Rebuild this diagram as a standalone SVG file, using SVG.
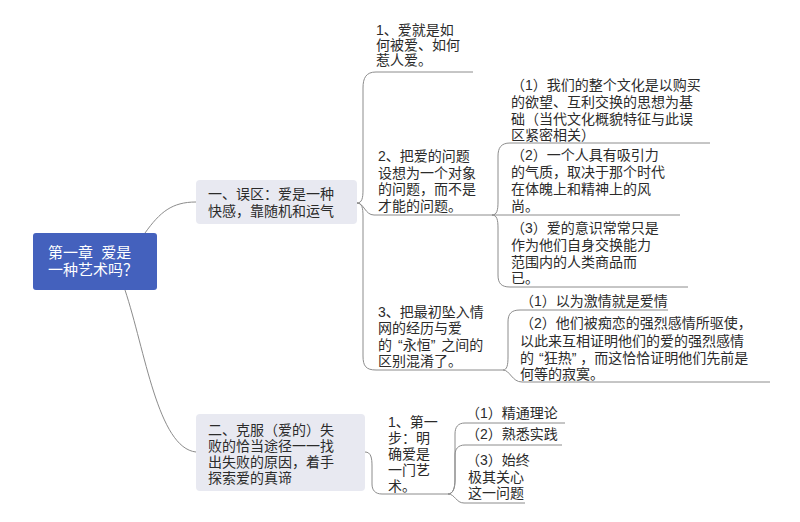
<svg xmlns="http://www.w3.org/2000/svg" width="800" height="522" viewBox="0 0 800 522">
<style>
text{font-family:"Liberation Sans","Noto Sans CJK SC",sans-serif;font-size:14px;fill:#2b2b2b}
#root text{fill:#fff;font-size:15px}
.box{fill:#e8e9f1}
#connectors path{fill:none;stroke:#8c8c8c;stroke-width:1}
</style>
<rect width="800" height="522" fill="#fff"/>
<g id="connectors">
<path d="M145,233 C160,212 172,202 196,202"/>
<path d="M125,290 C145,350 158,448 196,452"/>
<path d="M357,203 C362,203 363,198 363,190 L363,88 C363,78 366,72 376,72 L473,72"/>
<path d="M357,203 C364,203 365,215 374,215 L492,215"/>
<path d="M357,203 C362,203 363,208 363,216 L363,356 C363,366 366,370 376,370 L503,370"/>
<path d="M492,215 C497,215 498,210 498,202 L498,156 C498,148 501,143 510,143 L710,143"/>
<path d="M492,215 L680,215"/>
<path d="M492,215 C497,215 498,220 498,228 L498,275 C498,283 501,287 510,287 L688,287"/>
<path d="M503,370 C507,370 508,365 508,357 L508,322 C508,314 511,310 520,310 L668,310"/>
<path d="M503,370 C510,370 512,382 522,382 L770,382"/>
<path d="M365,452 C371,452 372,458 372,466 L372,484 C372,490 375,494 382,494 L448,494"/>
<path d="M448,494 C453,494 455,488 455,480 L455,434 C455,427 458,423 465,423 L565,423"/>
<path d="M448,494 C453,494 455,488 455,480 L455,455 C455,449 458,445 465,445 L562,445"/>
<path d="M448,494 C455,494 456,503 464,503 L525,503"/>
</g>
<g id="root">
<rect x="33" y="233" width="124" height="57" rx="3" fill="#4461bd"/>
<text x="48" y="258">第一章<tspan dx="4"> 爱是</tspan><tspan x="48" y="275">一种艺术吗？</tspan></text>
</g>
<g id="n1">
<rect class="box" x="196" y="180" width="161" height="44" rx="4"/>
<text x="208" y="199">一、误区：爱是一种<tspan x="208" y="216">快感，靠随机和运气</tspan></text>
</g>
<g id="n2">
<rect class="box" x="196" y="414" width="169" height="77" rx="4"/>
<text x="208" y="435">二、克服（爱的）失<tspan x="208" y="451">败的恰当途径一一找</tspan><tspan x="208" y="467">出失败的原因，着手</tspan><tspan x="208" y="483">探索爱的真谛</tspan></text>
</g>
<g id="n1-1">
<text x="376" y="35">1、爱就是如<tspan x="376" y="50">何被爱、如何</tspan><tspan x="376" y="65">惹人爱。</tspan></text>
</g>
<g id="n1-2">
<text x="378" y="161">2、把爱的问题<tspan x="378" y="178">设想为一个对象</tspan><tspan x="378" y="194">的问题，而不是</tspan><tspan x="378" y="211">才能的问题。</tspan></text>
</g>
<g id="n1-3">
<text x="378" y="317">3、把最初坠入情<tspan x="378" y="333">网的经历与爱</tspan><tspan x="378" y="350">的<tspan dx="6">“永恒”</tspan><tspan dx="6">之间的</tspan></tspan><tspan x="378" y="366">区别混淆了。</tspan></text>
</g>
<g id="n1-2-1">
<text x="511" y="90">（1）我们的整个文化是以购买<tspan x="511" y="107">的欲望、互利交换的思想为基</tspan><tspan x="511" y="124">础（当代文化概貌特征与此误</tspan><tspan x="511" y="140">区紧密相关）</tspan></text>
</g>
<g id="n1-2-2">
<text x="511" y="160">（2）一个人具有吸引力<tspan x="511" y="177">的气质，取决于那个时代</tspan><tspan x="511" y="194">在体魄上和精神上的风</tspan><tspan x="511" y="211">尚。</tspan></text>
</g>
<g id="n1-2-3">
<text x="511" y="233">（3）爱的意识常常只是<tspan x="511" y="250">作为他们自身交换能力</tspan><tspan x="511" y="267">范围内的人类商品而</tspan><tspan x="511" y="283">已。</tspan></text>
</g>
<g id="n1-3-1">
<text x="520" y="306">（1）以为激情就是爱情</text>
</g>
<g id="n1-3-2">
<text x="520" y="328">（2）他们被痴恋的强烈感情所驱使，<tspan x="520" y="346">以此来互相证明他们的爱的强烈感情</tspan><tspan x="520" y="363">的<tspan dx="5">“狂热”</tspan><tspan dx="4">，而这恰恰证明他们先前是</tspan></tspan><tspan x="520" y="379">何等的寂寞。</tspan></text>
</g>
<g id="n2-1">
<text x="388" y="427">1、第一<tspan x="388" y="443">步：明</tspan><tspan x="388" y="459">确爱是</tspan><tspan x="388" y="475">一门艺</tspan><tspan x="388" y="491">术。</tspan></text>
</g>
<g id="n2-1-1">
<text x="466" y="418">（1）精通理论</text>
</g>
<g id="n2-1-2">
<text x="466" y="439">（2）熟悉实践</text>
</g>
<g id="n2-1-3">
<text x="466" y="465">（3）始终<tspan x="468" y="482">极其关心</tspan><tspan x="468" y="498">这一问题</tspan></text>
</g>
</svg>
